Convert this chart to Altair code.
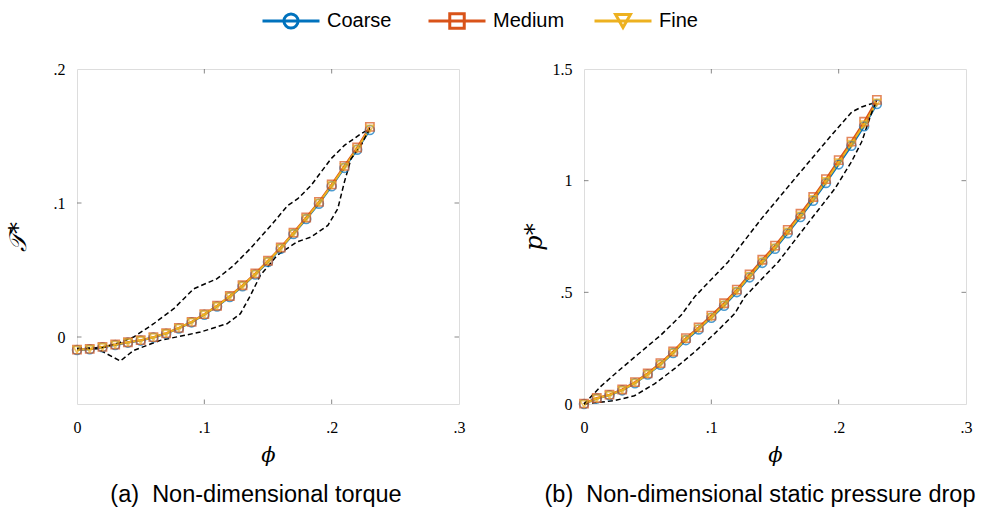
import altair as alt
import pandas as pd

# ---------------- data ----------------
phi = [0.00, 0.01, 0.02, 0.03, 0.04, 0.05, 0.06, 0.07, 0.08, 0.09, 0.10, 0.11,
       0.12, 0.13, 0.14, 0.15, 0.16, 0.17, 0.18, 0.19, 0.20, 0.21, 0.22, 0.23]

torque_coarse = [-0.0097, -0.0092, -0.0077, -0.0059, -0.0042, -0.0027, -0.0004, 0.0025,
                 0.0064, 0.0109, 0.0166, 0.0228, 0.0299, 0.0379, 0.0466, 0.0560, 0.0659,
                 0.0768, 0.0880, 0.0995, 0.1125, 0.1262, 0.1398, 0.1545]
torque_medium = [-0.0094, -0.0089, -0.0074, -0.0056, -0.0039, -0.0024, -0.0001, 0.0028,
                 0.0068, 0.0113, 0.0171, 0.0233, 0.0306, 0.0386, 0.0474, 0.0569, 0.0668,
                 0.0779, 0.0892, 0.1008, 0.1139, 0.1277, 0.1414, 0.1568]
torque_fine = [-0.0095, -0.0090, -0.0075, -0.0057, -0.0040, -0.0025, -0.0002, 0.0027,
               0.0067, 0.0112, 0.0169, 0.0231, 0.0303, 0.0383, 0.0470, 0.0565, 0.0664,
               0.0774, 0.0886, 0.1002, 0.1132, 0.1269, 0.1405, 0.1555]

pdrop_coarse = [0.000, 0.024, 0.039, 0.061, 0.093, 0.132, 0.176, 0.228, 0.286, 0.334,
                0.386, 0.440, 0.501, 0.567, 0.632, 0.695, 0.765, 0.837, 0.910, 0.990,
                1.073, 1.156, 1.244, 1.343]
pdrop_medium = [0.002, 0.027, 0.042, 0.065, 0.098, 0.137, 0.183, 0.235, 0.295, 0.343,
                0.396, 0.451, 0.512, 0.580, 0.646, 0.709, 0.780, 0.852, 0.927, 1.007,
                1.092, 1.175, 1.264, 1.362]
pdrop_fine = [0.000, 0.025, 0.040, 0.0625, 0.095, 0.134, 0.179, 0.231, 0.290, 0.338,
              0.390, 0.445, 0.506, 0.573, 0.638, 0.701, 0.772, 0.844, 0.918, 0.998,
              1.082, 1.165, 1.253, 1.350]

torque_upper_phi = [0.0, 0.02, 0.034, 0.0445, 0.0602, 0.076, 0.0917, 0.11, 0.123, 0.136,
                    0.1524, 0.1655, 0.1734, 0.1838, 0.1995, 0.21, 0.2231, 0.23]
torque_upper = [-0.0085, -0.008, -0.004, 0.0, 0.0099, 0.0211, 0.036, 0.0435, 0.0534, 0.0659,
                0.0833, 0.0982, 0.1032, 0.1131, 0.133, 0.143, 0.1517, 0.1555]
torque_lower_phi = [0.0, 0.0157, 0.034, 0.0445, 0.0654, 0.0969, 0.1178, 0.1283, 0.1362,
                    0.144, 0.1571, 0.1728, 0.1838, 0.197, 0.2048, 0.21, 0.2152, 0.2231,
                    0.227, 0.23]
torque_lower = [-0.0085, -0.0087, -0.0179, -0.010, -0.0025, 0.0037, 0.0099, 0.0174, 0.031,
                0.046, 0.0609, 0.0710, 0.0746, 0.0833, 0.0957, 0.1157, 0.133, 0.143,
                0.1504, 0.1555]

pdrop_upper_phi = [0.0, 0.0134, 0.029, 0.045, 0.0606, 0.0764, 0.0869, 0.1131, 0.1394,
                   0.1656, 0.192, 0.2102, 0.218, 0.226, 0.23]
pdrop_upper = [0.0, 0.080, 0.158, 0.235, 0.310, 0.398, 0.480, 0.636, 0.830,
               1.009, 1.188, 1.307, 1.330, 1.345, 1.355]
pdrop_lower_phi = [0.0, 0.0239, 0.0396, 0.0554, 0.0711, 0.0869, 0.1026, 0.1184, 0.1262,
                   0.1525, 0.1787, 0.197, 0.210, 0.218, 0.2234, 0.227, 0.23]
pdrop_lower = [0.0, 0.015, 0.037, 0.090, 0.158, 0.233, 0.315, 0.405, 0.480,
               0.636, 0.830, 0.964, 1.084, 1.173, 1.263, 1.322, 1.355]

series_names = ["Coarse", "Medium", "Fine"]
series_colors = ["#0072BD", "#D95319", "#EDB120"]
series_shapes = ["circle", "square", "triangle-down"]

x_ticks = [0, 0.1, 0.2, 0.3]
torque_ticks = [0, 0.1, 0.2]
pdrop_ticks = [0, 0.5, 1, 1.5]

captions = ["(a)\u00a0\u00a0Non-dimensional torque",
            "(b)\u00a0\u00a0Non-dimensional static pressure drop"]

# ---------------- styling ----------------
SERIF = "Liberation Serif"
SANS = "Liberation Sans"
FRAME = "#555555"
W, H = 382, 335

label_expr = ("datum.value > 0 && datum.value < 1 ? slice(format(datum.value, '~g'), 1) "
              ": format(datum.value, '~g')")


def long_table(values_list):
    rows = []
    for name, vals in zip(series_names, values_list):
        for p, v in zip(phi, vals):
            rows.append({"phi": p, "val": v, "series": name})
    return pd.DataFrame(rows)


def envelope_table(up_phi, up, lo_phi, lo):
    rows = [{"phi": p, "val": v, "bound": "upper"} for p, v in zip(up_phi, up)]
    rows += [{"phi": p, "val": v, "bound": "lower"} for p, v in zip(lo_phi, lo)]
    return pd.DataFrame(rows)


color_scale = alt.Scale(domain=series_names, range=series_colors)
shape_scale = alt.Scale(domain=series_names, range=series_shapes)
plot_size_scale = alt.Scale(domain=series_names, range=[80, 55, 150])


def panel(values_list, env, ydomain, yticks, ytitle, caption, title_x, cap_dx):
    xs = alt.Scale(domain=[0, 0.3], nice=False, zero=False)
    ys = alt.Scale(domain=ydomain, nice=False, zero=False)
    xax = alt.Axis(values=x_ticks, labelExpr=label_expr, grid=False, ticks=False, domain=False,
                   labelFont=SERIF, labelFontSize=16, labelColor="black", labelPadding=15,
                   labelFlush=False,
                   title="ϕ", titleFont="DejaVu Serif", titleFontStyle="italic",
                   titleFontWeight="normal", titleFontSize=21, titleColor="black",
                   titlePadding=9)
    yax = alt.Axis(values=yticks, labelExpr=label_expr, grid=False, ticks=False, domain=False,
                   labelFont=SERIF, labelFontSize=16, labelColor="black", labelPadding=12,
                   labelFlush=False,
                   title=ytitle, titleFont="DejaVu Serif", titleFontStyle="italic",
                   titleFontWeight="normal", titleFontSize=24, titleColor="black",
                   titleX=title_x, titleY=H / 2, titleAngle=270, titleBaseline="middle",
                   titleAlign="center")

    df = long_table(values_list)
    base = alt.Chart(df)
    X = alt.X("phi:Q", scale=xs, axis=xax)
    Y = alt.Y("val:Q", scale=ys, axis=yax)

    envelope = alt.Chart(env).mark_line(
        color="black", strokeDash=[5, 3], strokeWidth=1.5
    ).encode(x=alt.X("phi:Q", scale=xs), y=alt.Y("val:Q", scale=ys), detail="bound:N")

    lines = base.mark_line(strokeWidth=2).encode(
        x=X, y=Y,
        color=alt.Color("series:N", scale=color_scale, legend=None),
        detail="series:N",
    )
    points = base.mark_point(filled=False, strokeWidth=1.6).encode(
        x=alt.X("phi:Q", scale=xs), y=alt.Y("val:Q", scale=ys),
        color=alt.Color("series:N", scale=color_scale, legend=None),
        shape=alt.Shape("series:N", scale=shape_scale, legend=None),
        size=alt.Size("series:N", scale=plot_size_scale, legend=None),
    )

    # inward tick marks on all four sides
    xt = pd.DataFrame({"t": [v for v in x_ticks if 0 < v < 0.3]})
    yt = pd.DataFrame({"t": [v for v in yticks if ydomain[0] < v < ydomain[1]]})
    tick_style = dict(color=FRAME, thickness=1, size=9, clip=True)
    t_bottom = alt.Chart(xt).mark_tick(orient="vertical", **tick_style).encode(
        x=alt.X("t:Q", scale=xs), y=alt.datum(ydomain[0], scale=ys))
    t_top = alt.Chart(xt).mark_tick(orient="vertical", **tick_style).encode(
        x=alt.X("t:Q", scale=xs), y=alt.datum(ydomain[1], scale=ys))
    t_left = alt.Chart(yt).mark_tick(orient="horizontal", **tick_style).encode(
        y=alt.Y("t:Q", scale=ys), x=alt.datum(0.0, scale=xs))
    t_right = alt.Chart(yt).mark_tick(orient="horizontal", **tick_style).encode(
        y=alt.Y("t:Q", scale=ys), x=alt.datum(0.3, scale=xs))

    return alt.layer(lines, envelope, points, t_bottom, t_top, t_left, t_right).properties(
        width=W, height=H,
        title=alt.TitleParams(caption, orient="bottom", anchor="middle", font=SANS,
                              fontSize=23.5, fontWeight="normal", color="black", offset=18,
                              dx=cap_dx),
    )


left = panel([torque_coarse, torque_medium, torque_fine],
             envelope_table(torque_upper_phi, torque_upper, torque_lower_phi, torque_lower),
             [-0.05, 0.2], torque_ticks, "𝒯*", captions[0], -59, -12)
right = panel([pdrop_coarse, pdrop_medium, pdrop_fine],
              envelope_table(pdrop_upper_phi, pdrop_upper, pdrop_lower_phi, pdrop_lower),
              [0, 1.5], pdrop_ticks, "p*", captions[1], -50, -15)

# ---------------- manual legend (line + marker + label) ----------------
LW = 860
leg_df = pd.DataFrame({"idx": [0, 1, 2], "series": series_names})
step = 166.0
first_px = 214.0
d0 = -first_px / step
d1 = d0 + LW / step
lx = alt.X("idx:Q", scale=alt.Scale(domain=[d0, d1], nice=False, zero=False), axis=None)
ly = alt.value(21)
leg_base = alt.Chart(leg_df)
leg_line = leg_base.mark_rule(strokeWidth=3, xOffset=-28.5, x2Offset=28.5).encode(
    x=lx, x2="idx:Q", y=ly,
    color=alt.Color("series:N", scale=color_scale, legend=None))
leg_mark = leg_base.mark_point(filled=False, strokeWidth=3, opacity=1).encode(
    x=lx, y=ly,
    color=alt.Color("series:N", scale=color_scale, legend=None),
    shape=alt.Shape("series:N", scale=shape_scale, legend=None),
    size=alt.Size("series:N", scale=alt.Scale(domain=series_names, range=[200, 220, 330]),
                  legend=None),
)
leg_text = leg_base.mark_text(align="left", baseline="middle", dx=36, font=SANS,
                              fontSize=20, color="black").encode(x=lx, y=ly, text="series:N")
legend = alt.layer(leg_line, leg_mark, leg_text).properties(
    width=LW, height=40, view=alt.ViewConfig(stroke="transparent", strokeWidth=0))

chart = alt.vconcat(
    legend,
    alt.hconcat(left, right, spacing=55),
    spacing=20,
).resolve_scale(
    size="independent"
).properties(
    padding={"left": 5, "top": 0, "right": 0, "bottom": 0}
).configure_view(
    stroke=FRAME, strokeWidth=1
).configure(background="white")

chart.save("out.html", embed_options={"renderer": "svg", "actions": False})
